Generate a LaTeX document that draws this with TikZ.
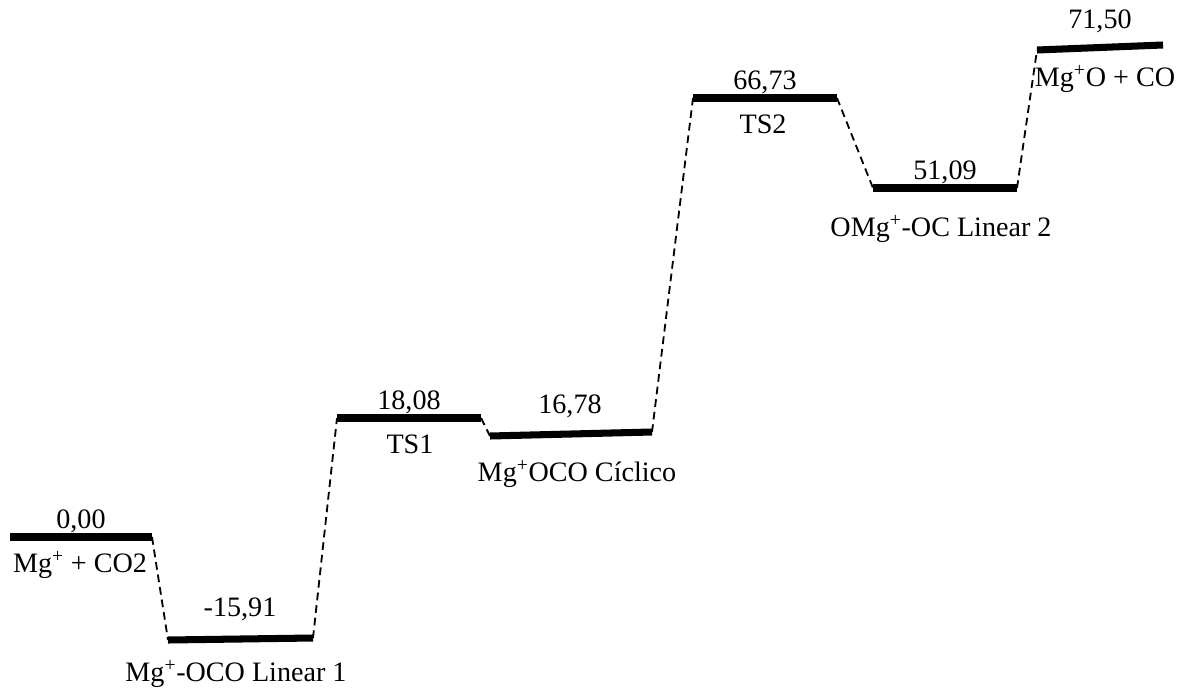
\documentclass[tikz,border=0pt]{standalone}
\usepackage{fontspec}
\setmainfont{Liberation Serif}
\usetikzlibrary{positioning,calc}

\begin{document}
\begin{tikzpicture}[x=0.025cm, y=-0.025cm, font=\fontsize{20}{24}\selectfont,
  lvl/.style={line width=5pt},
  link/.style={line width=1.3pt, dash pattern=on 5.5pt off 3.5pt},
  val/.style={above=2pt, inner sep=1pt},
  nam/.style={inner sep=1pt}]
\useasboundingbox (0,0) rectangle (1184,691);
% bar ends of the energy levels
\coordinate (a1) at (10,537);   \coordinate (a2) at (152,537);
\coordinate (b1) at (168,640);  \coordinate (b2) at (313,638);
\coordinate (c1) at (337,418);  \coordinate (c2) at (481,418);
\coordinate (d1) at (490,436);  \coordinate (d2) at (652,432);
\coordinate (e1) at (693,98);   \coordinate (e2) at (837,98);
\coordinate (f1) at (873,188);  \coordinate (f2) at (1017,188);
\coordinate (g1) at (1037,50);  \coordinate (g2) at (1163,45);
\foreach \p in {a,b,c,d,e,f,g}
  \draw[lvl] (\p1) -- (\p2);
\draw[link] (a2) -- (b1);
\draw[link] (b2) -- (c1);
\draw[link] (c2) -- (d1);
\draw[link] (d2) -- (e1);
\draw[link] (e2) -- (f1);
\draw[link] (f2) -- (g1);
% energies
\node[val] (va) at ($(a1)!0.5!(a2)$) {0,00};
\node[val] (vb) at (240,625) {-15,91};
\node[val] (vc) at ($(c1)!0.5!(c2)$) {18,08};
\node[val] (vd) at (570,422) {16,78};
\node[val] (ve) at ($(e1)!0.5!(e2)$) {66,73};
\node[val] (vf) at ($(f1)!0.5!(f2)$) {51,09};
\node[val] (vg) at (1100,37) {71,50};
% species
\node[nam] (na) at (80,565) {Mg\textsuperscript{+} + CO2};
\node[nam] (nb) at (236,674) {Mg\textsuperscript{+}-OCO Linear 1};
\node[nam] (nc) at (410,444) {TS1};
\node[nam] (nd) at (577,474) {Mg\textsuperscript{+}OCO Cíclico};
\node[nam] (ne) at (763,124) {TS2};
\node[nam] (nf) at (941,229) {OMg\textsuperscript{+}-OC Linear 2};
\node[nam] (ng) at (1105,79) {Mg\textsuperscript{+}O + CO};
\end{tikzpicture}
\end{document}
